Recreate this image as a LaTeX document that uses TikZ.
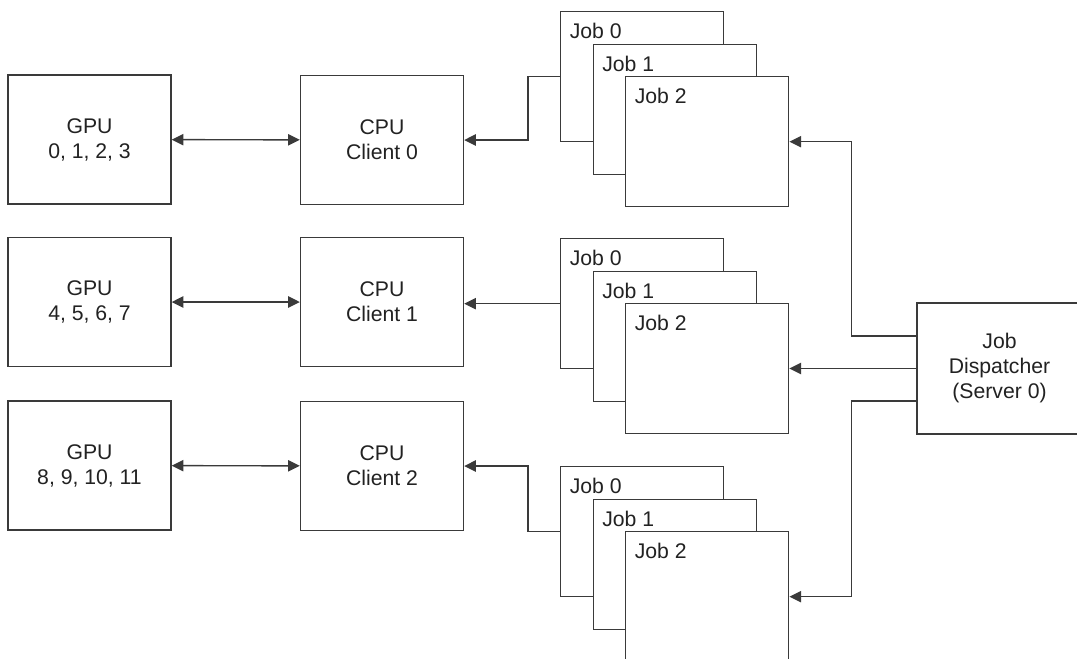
\documentclass[tikz,border=0pt]{standalone}
\usepackage{fontspec}
\setmainfont{Liberation Sans}
\usepackage{tikz}
\usetikzlibrary{arrows.meta,positioning}
\usepackage{xcolor}
\definecolor{ink}{HTML}{3A3A3A}
\definecolor{txt}{HTML}{222222}

\begin{document}
\begin{tikzpicture}[
  x=0.5pt, y=-0.5pt,
  every node/.style={font=\fontsize{10.6}{12.5}\selectfont, text=txt},
  box/.style={rectangle, draw=ink, line width=0.7pt, fill=white, minimum width=81.5pt, minimum height=64.5pt, align=center, inner sep=0pt},
  jobbox/.style={box, anchor=north west, minimum height=65pt},
  lbl/.style={anchor=north west, inner sep=0pt, xshift=4.7pt, yshift=-6pt},
  arrow/.style={-{Triangle[length=5.8pt,width=5.6pt]}, line width=0.7pt, color=ink},
  arrow both/.style={{Triangle[length=5.8pt,width=5.6pt]}-{Triangle[length=5.8pt,width=5.6pt]}, line width=0.7pt, color=ink}
]
\useasboundingbox (0,0) rectangle (1077,659);

% --- GPU and CPU clients
\node[box] (gpu0) at (89.5,139.5) {GPU\\0, 1, 2, 3};
\node[box] (gpu1) at (89.5,302)   {GPU\\4, 5, 6, 7};
\node[box] (gpu2) at (89.5,465.5) {GPU\\8, 9, 10, 11};
\node[box] (cpu0) at (382,140)    {CPU\\Client 0};
\node[box] (cpu1) at (382,302)    {CPU\\Client 1};
\node[box] (cpu2) at (382,466)    {CPU\\Client 2};

\foreach \i in {0,1,2}
  \draw[arrow both] (gpu\i) -- (cpu\i);

% --- job stacks
\foreach \r/\yy in {0/11,1/238,2/466} {
  \foreach \k in {0,1,2} {
    \node[jobbox, label={[lbl]north west:Job \k}] (j\r-\k) at ({560+32.5*\k},{\yy+32.5*\k}) {};
  }
}

\draw[arrow] (j0-0.west) -- ++(-32,0) |- (cpu0.east);
\draw[arrow] (j1-0.west) -- (j1-0.west -| cpu1.east);
\draw[arrow] (j2-0.west) -- ++(-32,0) |- (cpu2.east);

% --- dispatcher
\node[box, minimum width=82.5pt, minimum height=65.5pt] (disp) at (999.5,368.5) {Job\\Dispatcher\\(Server 0)};

\draw[arrow] ([yshift=16.25pt]disp.west) -- ++(-65,0) |- (j0-2.east);
\draw[arrow] (disp.west) -- (disp.west -| j1-2.east);
\draw[arrow] ([yshift=-16.25pt]disp.west) -- ++(-65,0) |- (j2-2.east);

\end{tikzpicture}
\end{document}
